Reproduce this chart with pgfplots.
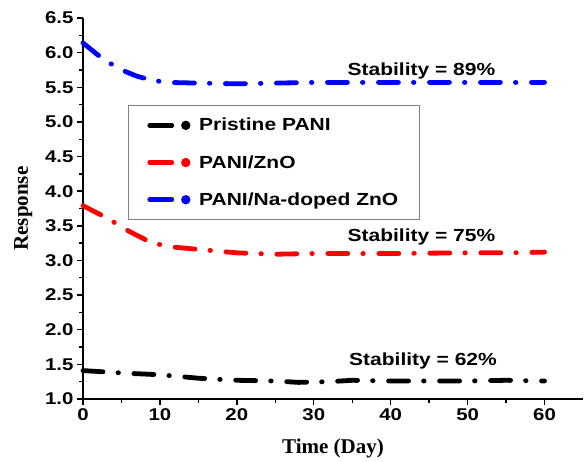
\documentclass[border=0pt]{standalone}
\usepackage{pgfplots}
\pgfplotsset{compat=1.18}
\usepackage{fontspec}
\setmainfont[FakeStretch=1.2]{Liberation Sans}
\newfontfamily\serifb{Liberation Serif}

\definecolor{blk}{RGB}{0,0,0}
\definecolor{rd}{RGB}{255,0,0}
\definecolor{bl}{RGB}{0,0,255}

\begin{document}
\begin{tikzpicture}
\begin{axis}[
  scale only axis,
  width=500pt, height=381pt,
  xmin=0, xmax=65, ymin=1, ymax=6.5,
  axis x line*=bottom, axis y line*=left,
  axis line style={-, line width=2pt},
  xtick={0,10,...,60},
  ytick={1,1.5,...,6.5},
  minor x tick num=1, minor y tick num=1,
  tick align=outside,
  major tick length=6pt, minor tick length=4pt,
  every tick/.style={black, line width=1.4pt},
  yticklabel style={/pgf/number format/.cd, fixed, fixed zerofill, precision=1},
  /pgf/number format/assume math mode=true,
  ticklabel style={font=\fontsize{17}{17}\selectfont\bfseries},
  xlabel={Time (Day)}, ylabel={Response},
  label style={font=\serifb\fontsize{21}{21}\selectfont\bfseries},
  xlabel style={yshift=-11pt},
  ylabel style={yshift=6pt},
  legend style={at={(rel axis cs:0.09,0.772)}, anchor=north west,
    draw=gray, line width=0.8pt, font=\fontsize{17.5}{17.5}\selectfont\bfseries,
    inner xsep=19pt, inner ysep=11pt, row sep=19pt},
  legend cell align=left,
  legend image code/.code={
    \draw[#1, solid, line cap=round] (0pt,0pt) -- (22pt,0pt);
    \fill[#1, solid] (36pt,0pt) circle (2.1pt);
    \path (45pt,0pt);},
  every axis plot/.style={line width=4.8pt, line cap=round,
    dash pattern=on 20pt off 15pt on 0.5pt off 15.5pt},
  clip=false,
]
\addplot[blk] coordinates {
(0,1.41) (3,1.39) (6,1.37) (10,1.35) (13,1.32) (15,1.30) (20,1.27) (25,1.26)
(28,1.24) (32,1.25) (35,1.27) (40,1.26) (45,1.26) (50,1.26) (55,1.27) (60,1.26)
};
\addlegendentry{Pristine PANI}
\addplot[rd] coordinates {
(0,3.79) (3,3.62) (6,3.42) (9,3.25) (12,3.19) (16,3.15) (20,3.11) (25,3.09)
(30,3.10) (40,3.10) (50,3.11) (55,3.11) (60,3.12)
};
\addlegendentry{PANI/ZnO}
\addplot[bl] coordinates {
(0,6.14) (1,6.05) (2,5.96) (3,5.88) (5,5.75) (7,5.66) (9,5.60) (11,5.57)
(15,5.56) (20,5.55) (25,5.56) (30,5.57) (35,5.57) (40,5.57) (45,5.57)
(50,5.57) (55,5.57) (60,5.57)
};
\addlegendentry{PANI/Na-doped ZnO}
\node[font=\fontsize{17.5}{17.5}\selectfont\bfseries] at (axis cs:44,5.73) {Stability = 89\%};
\node[font=\fontsize{17.5}{17.5}\selectfont\bfseries] at (axis cs:44,3.34) {Stability = 75\%};
\node[font=\fontsize{17.5}{17.5}\selectfont\bfseries] at (axis cs:44.2,1.55) {Stability = 62\%};
\end{axis}
\pgfresetboundingbox
\useasboundingbox ([shift={(-83pt,-62pt)}]current axis.south west) rectangle ([shift={(501pt,399pt)}]current axis.south west);
\end{tikzpicture}
\end{document}
